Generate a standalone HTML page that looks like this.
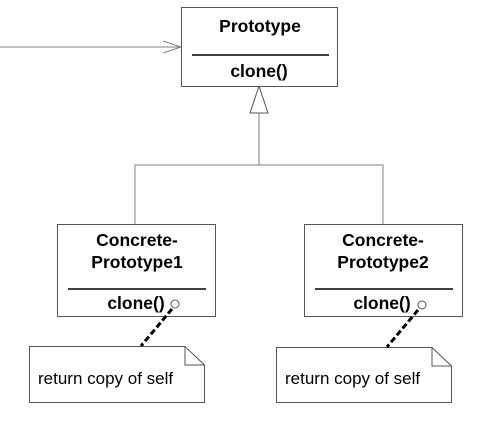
<!DOCTYPE html>
<html><head><style>body{margin:0;background:#fff}</style></head><body>
<svg width="489" height="420" xmlns="http://www.w3.org/2000/svg" font-family="Liberation Sans, Arial, sans-serif">
<rect width="489" height="420" fill="#fff"/>
<g fill="none" stroke="#808080" stroke-width="1">
<line x1="0" y1="47" x2="181" y2="47"/>
<polyline points="163,41 181,47 163,53"/>
<line x1="259" y1="113" x2="259" y2="165"/>
<polyline points="135,224 135,165 383,165 383,224"/>
</g>
<polygon points="259,86 250,113 268,113" fill="#fff" stroke="#555"/>
<g fill="#fff" stroke="#555">
<rect x="181.5" y="7.5" width="156" height="79"/>
<rect x="57.5" y="224.5" width="158" height="92"/>
<rect x="304.5" y="224.5" width="158" height="92"/>
<path d="M29.5 346.5 H185 L204.5 365 V402.5 H29.5 Z"/>
<path d="M185 346.5 V365 H204.5" fill="none"/>
<path d="M276.5 347.5 H432 L451.5 366 V402.5 H276.5 Z"/>
<path d="M432 347.5 V366 H451.5" fill="none"/>
<circle cx="175" cy="304" r="4"/>
<circle cx="422" cy="305" r="4"/>
</g>
<g stroke="#000" stroke-width="1.5">
<line x1="192" y1="55" x2="329" y2="55"/>
<line x1="68" y1="289" x2="206" y2="289"/>
<line x1="315" y1="289" x2="453" y2="289"/>
</g>
<g stroke="#000" stroke-width="3" stroke-dasharray="6,3">
<line x1="172" y1="309" x2="141" y2="346"/>
<line x1="418" y1="310" x2="387" y2="347"/>
</g>
<g font-weight="bold" font-size="17.5" text-anchor="middle" fill="#000">
<text x="260" y="32">Prototype</text>
<text x="259" y="77">clone()</text>
<text x="137" y="246">Concrete-</text>
<text x="137" y="268">Prototype1</text>
<text x="136" y="309">clone()</text>
<text x="383" y="246">Concrete-</text>
<text x="383" y="268">Prototype2</text>
<text x="382" y="309">clone()</text>
</g>
<g font-size="17" fill="#000">
<text x="38" y="384">return copy of self</text>
<text x="285" y="384">return copy of self</text>
</g>
</svg>
</body></html>
